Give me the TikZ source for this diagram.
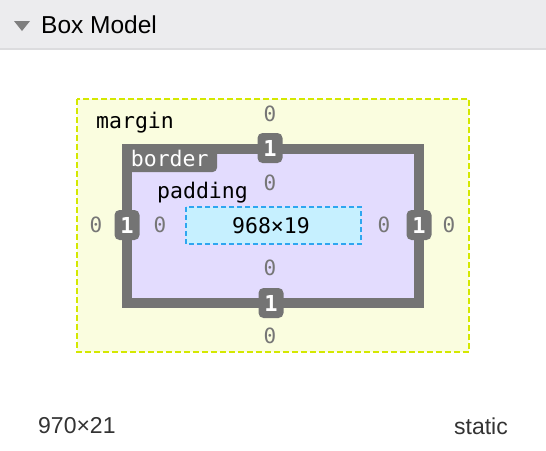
\documentclass[tikz,border=0pt]{standalone}
\usepackage{fontspec}
\setmainfont{Liberation Sans}
\newfontfamily\boxmono{DejaVu Sans Mono}
\usetikzlibrary{positioning}
\definecolor{headbg}{HTML}{ECECEE}
\definecolor{headline}{HTML}{DCDCDE}
\definecolor{trigray}{HTML}{7F7F7F}
\definecolor{marginbg}{HTML}{FAFDDF}
\definecolor{marginline}{HTML}{D4E800}
\definecolor{paddingbg}{HTML}{E3DCFE}
\definecolor{bordergray}{HTML}{747474}
\definecolor{contentbg}{HTML}{C6F0FF}
\definecolor{contentline}{HTML}{2EA6F0}
\definecolor{zerogray}{HTML}{767676}

\begin{document}
\begin{tikzpicture}[x=1pt,y=-1pt,
  zero/.style={text=zerogray,font=\boxmono\fontsize{21}{24}\selectfont,inner sep=0pt},
  badge/.style={fill=bordergray,text=white,rounded corners=5pt,inner sep=0pt,
    minimum width=25pt,minimum height=30pt,font=\boxmono\bfseries\fontsize{22}{24}\selectfont},
  boxlabel/.style={font=\boxmono\fontsize{21.5}{24}\selectfont,inner sep=0pt},
  infotext/.style={text=black!80,font=\fontsize{23}{26}\selectfont,inner sep=0pt}]

\useasboundingbox (0,0) rectangle (546,450);

% header
\fill[headbg] (0,0) rectangle (546,48);
\fill[headline] (0,48) rectangle (546,50);
\fill[trigray] (14,21) -- (30,21) -- (22,31) -- cycle;
\node[anchor=west,inner sep=0pt,font=\fontsize{24.5}{28}\selectfont] (title) at (41,25) {Box Model};

% boxes
\draw[marginline,fill=marginbg,line width=2pt,dash pattern=on 6pt off 3pt] (77,99) rectangle (469,352);
\draw[bordergray,fill=paddingbg,line width=10pt] (127,149) rectangle (419,303);
\draw[contentline,fill=contentbg,line width=2pt,dash pattern=on 5pt off 3pt] (186,207) rectangle (361,244);

\node[fill=bordergray,text=white,rounded corners=5pt,anchor=north west,inner sep=0pt,
  minimum width=95pt,minimum height=28pt,font=\boxmono\fontsize{21.5}{24}\selectfont] (bordertab) at (122,144) {border};
\node[boxlabel,anchor=base west] (marginlbl) at (96,128) {margin};
\node[boxlabel,anchor=base west] (paddinglbl) at (157,198) {padding};
\node[boxlabel] (content) at (271,226) {968×19};

% border widths
\node[badge] (btop)    at (270,148) {1};
\node[badge] (bbottom) at (271,303) {1};
\node[badge] (bleft)   at (127,225) {1};
\node[badge] (bright)  at (419,225) {1};

% margin and padding values
\node[zero] (mtop)    at (270,114) {0};
\node[zero] (mbottom) at (270,336) {0};
\node[zero] (mleft)   at (96,225)  {0};
\node[zero] (mright)  at (449,225) {0};
\node[zero] (ptop)    at (270,183) {0};
\node[zero] (pbottom) at (270,268) {0};
\node[zero] (pleft)   at (160,225) {0};
\node[zero] (pright)  at (384,225) {0};

% footer
\node[infotext,anchor=west] (size)  at (38,426)  {970×21};
\node[infotext,anchor=east] (place) at (508,426) {static};

\end{tikzpicture}
\end{document}
